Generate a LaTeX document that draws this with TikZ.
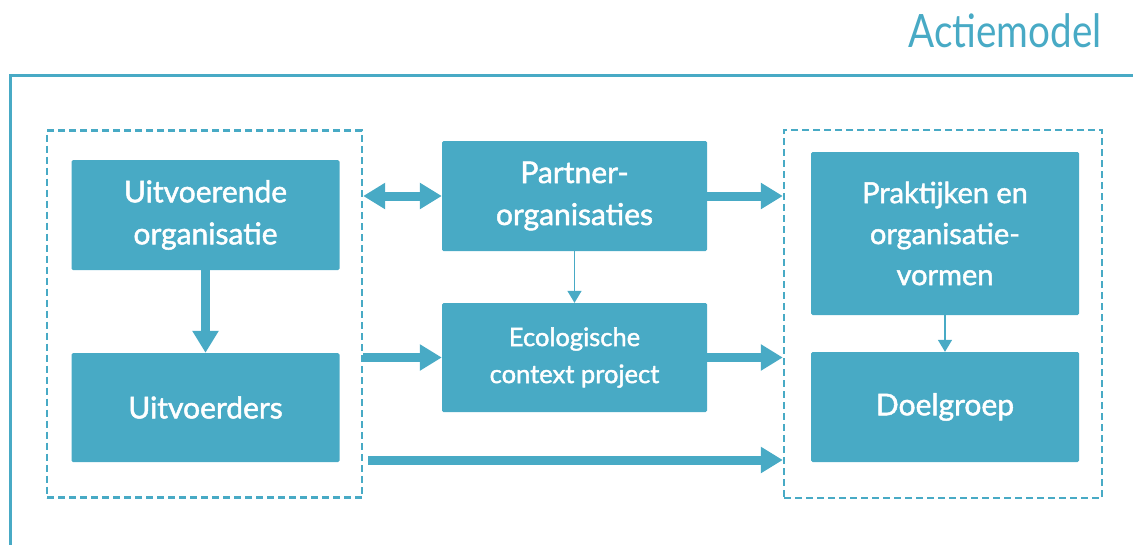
\documentclass[tikz,border=0pt]{standalone}
\usepackage{fontspec}
\setmainfont{Lato}
\newfontfamily\boxfont{Lato}[FakeBold=1.6]
\usetikzlibrary{arrows.meta}
\definecolor{teal}{HTML}{48AAC5}
\begin{document}
\begin{tikzpicture}[x=1pt,y=-1pt,
  box/.style={fill=teal, rounded corners=1.5pt, inner sep=0pt, text=white, align=center, font=\boxfont\fontsize{30}{42}\selectfont},
  group/.style={draw=teal, line width=2.4pt, dash pattern=on 7pt off 4pt, inner sep=0pt},
  fat/.style={draw=teal, line width=9pt, -{Triangle[length=22pt,width=25pt]}},
  fatboth/.style={draw=teal, line width=9pt, {Triangle[length=22pt,width=25pt]}-{Triangle[length=22pt,width=25pt]}},
  thin/.style={draw=teal, line width=1.5pt, -{Triangle[length=12pt,width=14pt]}}
]
\useasboundingbox (0,0) rectangle (1133,544);
% outer frame
\draw[teal, line width=3pt] (10,546) -- (10,75) -- (1136,75);
\node[anchor=base east, text=teal, font=\fontsize{46}{46}\selectfont, inner sep=0pt] (title) at (1102,47) {\scalebox{0.84}[1]{Actiemodel}};
% groups
\node[group, minimum width=315pt, minimum height=367pt] (lg) at (204.5,314) {};
\node[group, minimum width=318pt, minimum height=368pt] (rg) at (943,314) {};
% boxes
\node[box, minimum width=268pt, minimum height=110pt] (uo) at (205.5,215) {Uitvoerende\\organisatie};
\node[box, minimum width=268pt, minimum height=109pt] (ud) at (205.5,407.5) {Uitvoerders};
\node[box, minimum width=265pt, minimum height=110pt] (pa) at (574.5,196) {Partner-\\organisaties};
\node[box, minimum width=265pt, minimum height=109pt, font=\boxfont\fontsize{25.5}{37}\selectfont] (ec) at (574.5,357.5) {Ecologische\\context project};
\node[box, minimum width=268pt, minimum height=163pt, font=\boxfont\fontsize{29}{41}\selectfont] (pr) at (945,233.5) {Praktijken en\\organisatie-\\vormen};
\node[box, minimum width=268pt, minimum height=110pt] (dg) at (945,407) {Doelgroep};
% connectors
\coordinate (bs) at (368,460);
\draw[fat] (uo.south) -- (ud.north);
\draw[fatboth] (pa.west -| lg.east) -- (pa.west);
\draw[fat] (pa.east) -- (pa.east -| rg.west);
\draw[fat] (ec.west -| lg.east) -- (ec.west);
\draw[fat] (ec.east) -- (ec.east -| rg.west);
\draw[fat] (bs) -- (bs -| rg.west);
\draw[thin] (pa.south) -- (ec.north);
\draw[thin] (pr.south) -- (dg.north);
\end{tikzpicture}
\end{document}
